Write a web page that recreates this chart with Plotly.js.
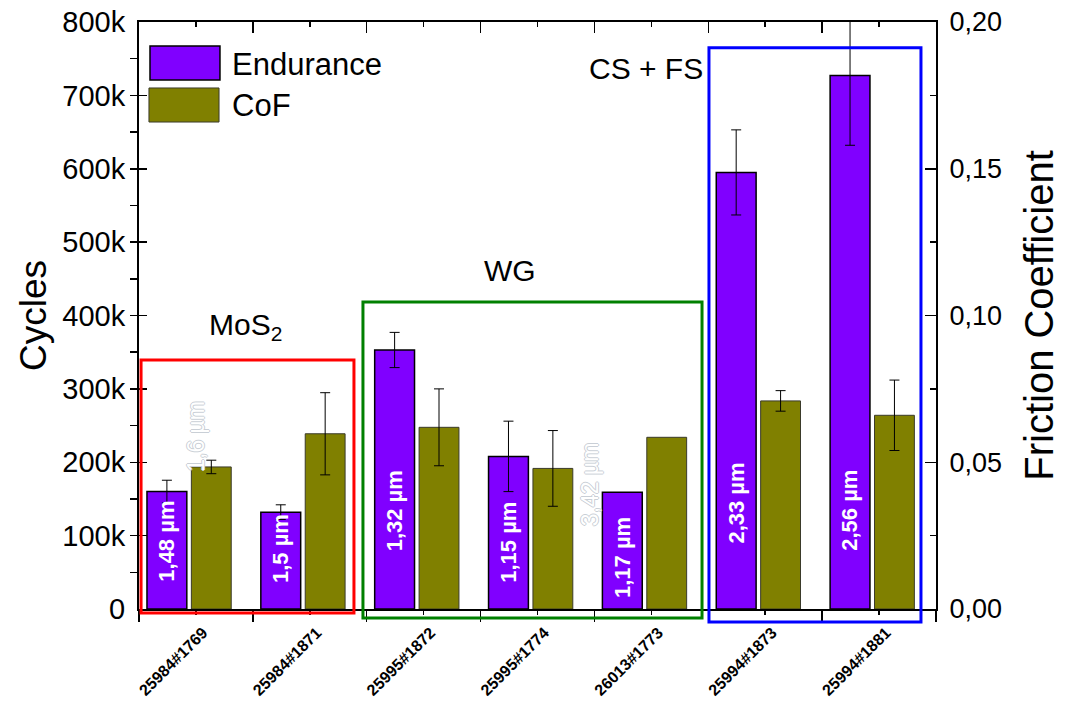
<!DOCTYPE html>
<html>
<head>
<meta charset="utf-8">
<script src="https://cdn.plot.ly/plotly-3.0.1.min.js"></script>
<style>html,body{margin:0;padding:0;background:#fff;}#chart{width:1068px;height:708px;}</style>
</head>
<body>
<div id="chart"></div>
<script>
// ---- data ----
const categories = ['25984#1769','25984#1871','25995#1872','25995#1774','26013#1773','25994#1873','25994#1881'];
const endurance    = [160000, 132000, 353000, 208000, 159000, 595000, 727000];
const enduranceErr = [15500, 10000, 24000, 48000, null, 58000, 95000];
const cof          = [0.0484, 0.0597, 0.0619, 0.0479, 0.0585, 0.0709, 0.0660];
const cofErr       = [0.0023, 0.0140, 0.0131, 0.0129, null, 0.0035, 0.0120];
const thickness    = ['1,48 µm','1,5 µm','1,32 µm','1,15 µm','1,17 µm','2,33 µm','2,56 µm'];
const ghostLabels  = ['1,6 µm','3,42 µm'];
const groupNames   = ['MoS<sub>2</sub>','WG','CS + FS'];
const yTickVals    = [0,100000,200000,300000,400000,500000,600000,700000,800000];

// ---- layout constants ----
const FONT = 'Liberation Sans, Arial, sans-serif';
const PURPLE = '#8000ff', OLIVE = '#808000';
const idx = categories.map((_, i) => i);
const bounds = [-0.5].concat(idx.map(i => i + 0.5));
const purpleOffset = -0.43, barW = 0.35, oliveOffset = -0.04;
const labelBottom = [35000, 33000, 76000, 33000, 12000, 86000, 76000];
const ghostPos = [{x: 0, y: 236000}, {x: 3.46, y: 170000}];
const nanify = a => a.map(v => v === null ? NaN : v);

const traces = [
  {
    type: 'bar', name: 'Endurance', x: idx, y: endurance,
    xaxis: 'x', yaxis: 'y',
    offset: purpleOffset, width: barW,
    marker: {color: PURPLE, line: {color: '#000', width: 1.5}},
    error_y: {type: 'data', array: nanify(enduranceErr), color: '#000', thickness: 1, width: 5},
    showlegend: false
  },
  {
    type: 'bar', name: 'CoF', x: idx, y: cof,
    xaxis: 'x', yaxis: 'y2',
    offset: oliveOffset, width: barW,
    marker: {color: OLIVE, line: {color: '#3a3a2a', width: 1}},
    error_y: {type: 'data', array: nanify(cofErr), color: '#000', thickness: 1, width: 5},
    showlegend: false
  },
  {type: 'scatter', x: [], y: [], xaxis: 'x2', yaxis: 'y', showlegend: false, hoverinfo: 'skip'}
];

const annotations = [];
thickness.forEach((t, i) => {
  annotations.push({
    x: i + purpleOffset + barW / 2, y: labelBottom[i], xref: 'x', yref: 'y',
    text: t, showarrow: false, textangle: -90, xanchor: 'center', yanchor: 'bottom',
    font: {family: FONT, size: 22, color: '#fff', weight: 'bold'}
  });
});
ghostLabels.forEach((t, i) => {
  annotations.push({
    x: ghostPos[i].x, y: ghostPos[i].y, xref: 'x', yref: 'y',
    text: t, showarrow: false, textangle: -90, xanchor: 'center', yanchor: 'middle',
    font: {family: FONT, size: 23, color: '#ffffff',
      shadow: '-1px 0 #c9cfd6, 1px 0 #c9cfd6, 0 1px #c9cfd6, 0 -1px #c9cfd6'}
  });
});
// group labels
const groupPos = [{x: 0.133, y: 0.482}, {x: 0.4655, y: 0.5775}, {x: 0.636, y: 0.9216}];
groupNames.forEach((g, i) => {
  annotations.push({
    x: groupPos[i].x, y: groupPos[i].y, xref: 'paper', yref: 'paper',
    text: g, showarrow: false, xanchor: 'center', yanchor: 'middle',
    font: {family: FONT, size: 30, color: '#000'}
  });
});
// legend texts
annotations.push({x: 0.1142, y: 0.928, xref: 'paper', yref: 'paper', text: traces[0].name,
  showarrow: false, xanchor: 'left', yanchor: 'middle', font: {family: FONT, size: 31, color: '#000'}});
annotations.push({x: 0.1142, y: 0.8586, xref: 'paper', yref: 'paper', text: traces[1].name,
  showarrow: false, xanchor: 'left', yanchor: 'middle', font: {family: FONT, size: 31, color: '#000'}});

const shapes = [
  // group boxes
  {type: 'rect', xref: 'x', yref: 'paper', x0: -0.482, x1: 1.388, y0: -0.0068, y1: 0.424,
    line: {color: '#ff0000', width: 3}, layer: 'above'},
  {type: 'rect', xref: 'x', yref: 'paper', x0: 1.467, x1: 4.445, y0: -0.0153, y1: 0.523,
    line: {color: '#008000', width: 3}, layer: 'above'},
  {type: 'rect', xref: 'x', yref: 'paper', x0: 4.506, x1: 6.368, y0: -0.022, y1: 0.956,
    line: {color: '#0000ff', width: 3}, layer: 'above'},
  // legend swatches
  {type: 'rect', xref: 'paper', yref: 'paper', x0: 0.0138, x1: 0.1016, y0: 0.901, y1: 0.959,
    fillcolor: PURPLE, line: {color: '#000', width: 1.5}, layer: 'above'},
  {type: 'rect', xref: 'paper', yref: 'paper', x0: 0.0125, x1: 0.1004, y0: 0.8296, y1: 0.8876,
    fillcolor: OLIVE, line: {color: '#3a3a2a', width: 1}, layer: 'above'}
];

const layout = {
  width: 1068, height: 708,
  margin: {l: 139, r: 132, t: 22, b: 99},
  paper_bgcolor: '#fff', plot_bgcolor: '#fff',
  separators: ', ',
  barmode: 'overlay',
  font: {family: FONT, color: '#000'},
  xaxis: {
    range: [-0.5, 6.5], tickmode: 'array', tickvals: idx, ticktext: categories,
    tickangle: -45, tickfont: {family: FONT, size: 16, color: '#000', weight: 'bold'},
    ticklabelstandoff: 2, ticklabelshift: 7,
    ticks: 'outside', ticklen: 4, tickwidth: 1.5, tickcolor: '#000',
    minor: {tickmode: 'array', tickvals: bounds, ticks: 'outside', ticklen: 11, tickwidth: 1.5, tickcolor: '#000'},
    showline: true, linecolor: '#000', linewidth: 2, showgrid: false, zeroline: false,
    fixedrange: true
  },
  xaxis2: {
    overlaying: 'x', side: 'top', anchor: 'y', range: [-0.5, 6.5],
    tickmode: 'array', tickvals: bounds, showticklabels: false,
    ticks: 'inside', ticklen: 11, tickwidth: 1.5, tickcolor: '#000',
    minor: {tickmode: 'array', tickvals: idx, ticks: 'inside', ticklen: 5, tickwidth: 1.5, tickcolor: '#000'},
    showline: true, linecolor: '#000', linewidth: 2, showgrid: false, zeroline: false
  },
  yaxis: {
    range: [0, 800000], tickmode: 'array', tickvals: yTickVals, tickformat: '~s',
    tickfont: {family: FONT, size: 29, color: '#000'},
    ticks: 'inside', ticklen: 8, tickwidth: 1.5, tickcolor: '#000', ticklabelstandoff: 6,
    minor: {dtick: 50000, ticks: 'outside', ticklen: 7, tickwidth: 1.5, tickcolor: '#000'},
    showline: true, linecolor: '#000', linewidth: 2, showgrid: false, zeroline: false,
    title: {text: 'Cycles', font: {family: FONT, size: 37, color: '#000'}, standoff: 4}
  },
  yaxis2: {
    overlaying: 'y', side: 'right', anchor: 'x', range: [0, 0.2], dtick: 0.05, tickformat: '.2f',
    tickfont: {family: FONT, size: 27, color: '#000'},
    ticks: 'inside', ticklen: 11, tickwidth: 1.5, tickcolor: '#000', ticklabelstandoff: 6,
    minor: {dtick: 0.025, ticks: 'inside', ticklen: 6, tickwidth: 1.5, tickcolor: '#000'},
    showline: true, linecolor: '#000', linewidth: 2, showgrid: false, zeroline: false,
    title: {text: 'Friction Coefficient', font: {family: FONT, size: 40, color: '#000'}, standoff: 24}
  },
  showlegend: false,
  annotations: annotations,
  shapes: shapes
};

Plotly.newPlot('chart', traces, layout, {displayModeBar: false, staticPlot: true});
</script>
</body>
</html>
